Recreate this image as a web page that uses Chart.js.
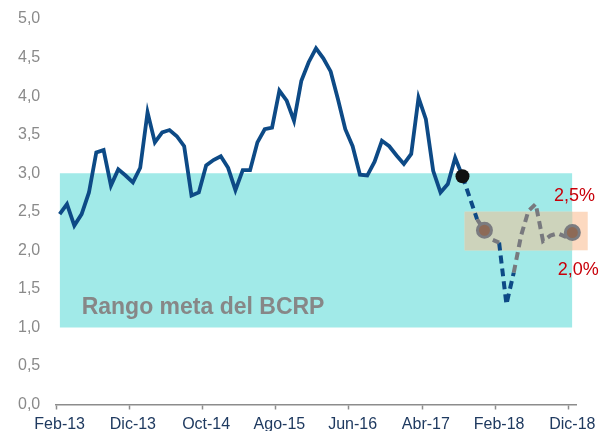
<!DOCTYPE html>
<html>
<head>
<meta charset="utf-8">
<script src="https://cdn.jsdelivr.net/npm/chart.js@4/dist/chart.umd.min.js"></script>
<style>
  html, body { margin: 0; padding: 0; background: #ffffff; }
  #wrap { width: 613px; height: 431px; position: relative; }
</style>
</head>
<body>
<div id="wrap"><canvas id="c" width="613" height="431"></canvas></div>
<script>
// ---- Categories (monthly, Feb-13 .. Dic-18) ----
const months2013 = ['Feb-13','Mar-13','Abr-13','May-13','Jun-13','Jul-13','Ago-13','Set-13','Oct-13','Nov-13','Dic-13'];
const months2014 = ['Ene-14','Feb-14','Mar-14','Abr-14','May-14','Jun-14','Jul-14','Ago-14','Set-14','Oct-14','Nov-14','Dic-14'];
const months2015 = ['Ene-15','Feb-15','Mar-15','Abr-15','May-15','Jun-15','Jul-15','Ago-15','Set-15','Oct-15','Nov-15','Dic-15'];
const months2016 = ['Ene-16','Feb-16','Mar-16','Abr-16','May-16','Jun-16','Jul-16','Ago-16','Set-16','Oct-16','Nov-16','Dic-16'];
const months2017 = ['Ene-17','Feb-17','Mar-17','Abr-17','May-17','Jun-17','Jul-17','Ago-17','Set-17','Oct-17','Nov-17','Dic-17'];
const months2018 = ['Ene-18','Feb-18','Mar-18','Abr-18','May-18','Jun-18','Jul-18','Ago-18','Set-18','Oct-18','Nov-18','Dic-18'];
const categories = [].concat(months2013, months2014, months2015, months2016, months2017, months2018);

// tick labels shown on the x axis
const xTickLabels = ['Feb-13','Dic-13','Oct-14','Ago-15','Jun-16','Abr-17','Feb-18','Dic-18'];
// y tick values
const yMin = 0, yMax = 5, yStep = 0.5;

// ---- Observed inflation (solid), Feb-13 .. Set-17 ----
const observed = [
  2.47, 2.60, 2.32, 2.47, 2.75, 3.27, 3.30, 2.84, 3.05, 2.97, 2.88, 3.07,
  3.79, 3.40, 3.53, 3.56, 3.48, 3.35, 2.71, 2.75, 3.10, 3.17, 3.22, 3.07,
  2.78, 3.04, 3.04, 3.40, 3.57, 3.59, 4.07, 3.94, 3.68, 4.20, 4.44, 4.62,
  4.49, 4.32, 3.96, 3.57, 3.35, 2.98, 2.97, 3.15, 3.42, 3.35, 3.23, 3.12,
  3.25, 3.98, 3.70, 3.03, 2.75, 2.86, 3.20, 2.96
];
// ---- Projection, dashed blue segments (from Set-17) ----
const projBlue = [2.96, 2.68, 2.40, null, null, 2.10, 1.30, 1.71];
const projBlueStart = 55;
// ---- Projection, dashed grey segments (from Nov-17) ----
const projGrey = [2.40, 2.26, 2.14, 2.10, null, 1.71, 2.19, 2.51, 2.60, 2.12, 2.19, 2.22, 2.18, 2.23];
const projGreyStart = 57;
// highlighted points
const blackDotMonths = ['Set-17'];
const greyDotMonths = ['Dic-17', 'Dic-18'];
// target range band and expectation range
const bandLow = 1.0, bandHigh = 3.0;
const expLow = 2.0, expHigh = 2.5;
const expLabels = ['2,5%', '2,0%'];
const bandText = 'Rango meta del BCRP';

// ---- build series aligned to categories ----
const n = categories.length;
const obsData = categories.map((c, i) => i < observed.length ? observed[i] : null);
const blueData = categories.map((c, i) => {
  const k = i - projBlueStart; return (k >= 0 && k < projBlue.length) ? projBlue[k] : null;
});
const greyData = categories.map((c, i) => {
  const k = i - projGreyStart; return (k >= 0 && k < projGrey.length) ? projGrey[k] : null;
});
function valueAt(i) {
  if (obsData[i] != null) return obsData[i];
  if (greyData[i] != null) return greyData[i];
  return blueData[i];
}
const blackDotData = categories.map((c, i) => blackDotMonths.includes(c) ? valueAt(i) : null);
const greyDotData = categories.map((c, i) => greyDotMonths.includes(c) ? valueAt(i) : null);
const bandLowData = categories.map(() => bandLow);
const bandHighData = categories.map(() => bandHigh);

const FONT = "'Liberation Sans', Arial, sans-serif";
const BLUE = '#0d4a86';
const GREY = '#78797e';

const decoPlugin = {
  id: 'deco',
  afterDatasetDraw(chart, args) {
    if (args.index !== 6) return; // after the band fill
    const {ctx, scales: {x, y}} = chart;
    const left = x.getPixelForValue(55.3);
    const right = x.getPixelForValue(72.1);
    const bandRight = x.getPixelForValue(n - 1);
    const top = y.getPixelForValue(expHigh);
    const bottom = y.getPixelForValue(expLow);
    ctx.save();
    ctx.fillStyle = '#fcd9c0';
    ctx.fillRect(left, top, right - left, bottom - top);
    ctx.fillStyle = '#cdd3bb';
    ctx.fillRect(left, top, bandRight - left, bottom - top);
    ctx.restore();
  },
  afterDatasetsDraw(chart) {
    const {ctx, scales: {x, y}} = chart;
    ctx.save();
    ctx.font = 'bold 23px ' + FONT;
    ctx.fillStyle = '#878787';
    ctx.textAlign = 'left';
    ctx.textBaseline = 'middle';
    ctx.fillText(bandText, x.getPixelForValue(3), y.getPixelForValue(1.25));
    ctx.font = '18px ' + FONT;
    ctx.fillStyle = '#c8000a';
    ctx.fillText(expLabels[0], x.getPixelForValue(67.5), y.getPixelForValue(2.71));
    ctx.fillText(expLabels[1], x.getPixelForValue(68.0), y.getPixelForValue(1.75));
    ctx.restore();
  }
};

new Chart(document.getElementById('c'), {
  type: 'line',
  data: {
    labels: categories,
    datasets: [
      { data: blackDotData, showLine: false, pointRadius: 7, pointBackgroundColor: '#111111',
        pointBorderColor: '#111111', pointBorderWidth: 0, order: 0, clip: false },
      { data: greyDotData, showLine: false, pointRadius: 7, pointBackgroundColor: '#8d6a56',
        pointBorderColor: '#7b7c80', pointBorderWidth: 3, order: 1, clip: false },
      { data: greyData, borderColor: GREY, borderWidth: 4, borderDash: [8, 5], pointRadius: 0,
        spanGaps: false, tension: 0, order: 2, clip: false, borderCapStyle: 'butt' },
      { data: blueData, borderColor: BLUE, borderWidth: 4, borderDash: [8, 5], pointRadius: 0,
        spanGaps: false, tension: 0, order: 3, clip: false, borderCapStyle: 'butt' },
      { data: obsData, borderColor: BLUE, borderWidth: 3.8, pointRadius: 0, tension: 0, order: 4,
        borderJoinStyle: 'miter' },
      { data: bandLowData, borderWidth: 0, borderColor: 'rgba(0,0,0,0)', pointRadius: 0, fill: false, order: 6 },
      { data: bandHighData, borderWidth: 0, borderColor: 'rgba(0,0,0,0)', pointRadius: 0,
        fill: '-1', backgroundColor: '#a1eae8', order: 5 }
    ]
  },
  options: {
    responsive: false,
    animation: false,
    devicePixelRatio: 1,
    layout: { padding: { top: 19, right: 37, left: 18, bottom: 0 } },
    plugins: { legend: { display: false }, tooltip: { enabled: false } },
    scales: {
      x: {
        type: 'category',
        offset: true,
        grid: {
          offset: true, display: true, drawOnChartArea: false, drawTicks: true, tickLength: 5,
          tickWidth: 1.5,
          tickColor: (ctx) => (ctx.index % 10 === 0 ? '#8c8c8c' : 'rgba(0,0,0,0)')
        },
        border: { display: true, color: '#8c8c8c', width: 1.5 },
        ticks: {
          autoSkip: false, maxRotation: 0, minRotation: 0, padding: 5,
          color: '#1f3a60', font: { family: FONT, size: 16 },
          callback: (v, i) => (xTickLabels.includes(categories[i]) ? categories[i] : '')
        },
        afterFit: (s) => { s.height = 26.5; }
      },
      y: {
        min: yMin, max: yMax,
        grid: { display: false, drawTicks: false },
        border: { display: false },
        ticks: {
          stepSize: yStep, padding: 3, crossAlign: 'far', color: '#8a8a8a',
          font: { family: FONT, size: 16 },
          callback: (v) => v.toFixed(1).replace('.', ',')
        },
        afterFit: (s) => { s.width = 38; }
      }
    }
  },
  plugins: [decoPlugin]
});
</script>
</body>
</html>
